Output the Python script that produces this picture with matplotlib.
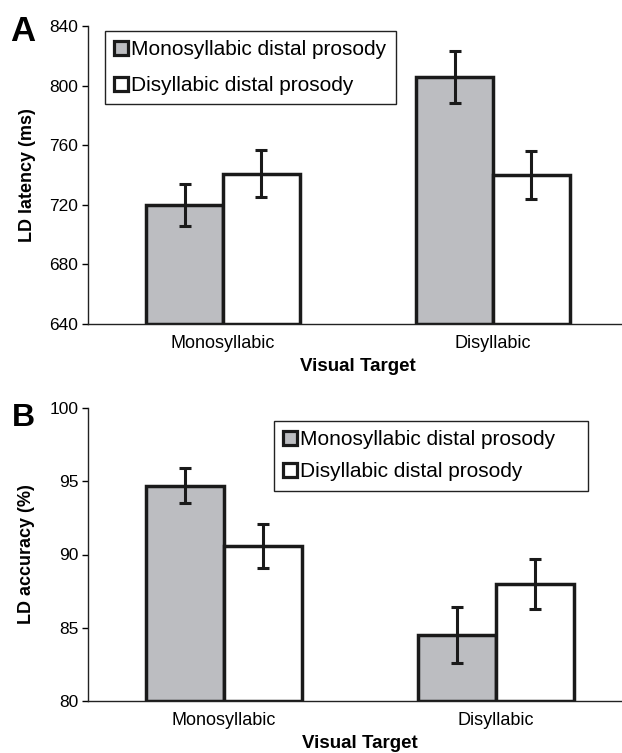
import matplotlib.pyplot as plt
import numpy as np
from matplotlib.patches import Patch

plt.rcParams['font.family'] = ['Liberation Sans', 'DejaVu Sans']

targets = ['Monosyllabic', 'Disyllabic']
series = ['Monosyllabic distal prosody', 'Disyllabic distal prosody']

latency_mono = [720, 806]
latency_mono_err = [14, 17.5]
latency_di = [741, 740]
latency_di_err = [16, 16]

accuracy_mono = [94.7, 84.5]
accuracy_mono_err = [1.2, 1.9]
accuracy_di = [90.6, 88.0]
accuracy_di_err = [1.5, 1.7]

GRAY = '#bcbdc1'
W = 0.285


def panel(ax, mono, mono_err, di, di_err, ylim, yticks, ylabel):
    x = np.arange(len(targets))
    for vals, errs, color, off in [(mono, mono_err, GRAY, -W / 2), (di, di_err, 'white', W / 2)]:
        ax.bar(x + off, np.array(vals) - ylim[0], W, bottom=ylim[0], color=color,
               edgecolor='#1a1a1a', linewidth=2.5, zorder=2)
        ax.errorbar(x + off, vals, yerr=errs, fmt='none', ecolor='#1a1a1a',
                    elinewidth=2.2, capsize=4.5, capthick=2.2, zorder=3)
    ax.set_xlim(-0.5, 1.5)
    ax.set_ylim(*ylim)
    ax.set_yticks(yticks)
    ax.set_xticks(x)
    ax.set_xticklabels(targets, fontsize=13)
    ax.tick_params(axis='x', length=0, pad=8)
    ax.tick_params(axis='y', length=4, width=1, direction='out', labelsize=12.5, pad=3)
    for s in ['top', 'right']:
        ax.spines[s].set_visible(False)
    for s in ['left', 'bottom']:
        ax.spines[s].set_linewidth(1)
        ax.spines[s].set_color('#222222')
    ax.set_xlabel('Visual Target', fontsize=13.5, fontweight='bold', labelpad=4)
    ax.set_ylabel(ylabel, fontsize=13, fontweight='bold', labelpad=10)


def main():
    fig = plt.figure(figsize=(6.22, 7.53), dpi=100)
    ax_a = fig.add_axes([88 / 622, 1 - 324 / 753, 540 / 622, 298 / 753])
    ax_b = fig.add_axes([88 / 622, 1 - 701 / 753, 544 / 622, 293 / 753])

    panel(ax_a, latency_mono, latency_mono_err, latency_di, latency_di_err,
          (640, 840), range(640, 841, 40), 'LD latency (ms)')
    panel(ax_b, accuracy_mono, accuracy_mono_err, accuracy_di, accuracy_di_err,
          (80, 100), range(80, 101, 5), 'LD accuracy (%)')

    handles = [Patch(facecolor=GRAY, edgecolor='#1a1a1a', linewidth=2.3),
               Patch(facecolor='white', edgecolor='#1a1a1a', linewidth=2.3)]
    # panel B's legend box is wider in the original, pad the labels a bit
    for ax, anchor, spacing, labels in [
            (ax_a, (105 / 622, 1 - 31 / 753), 0.8, series),
            (ax_b, (274 / 622, 1 - 421 / 753), 0.62, [s + '    ' for s in series])]:
        leg = ax.legend(handles, labels, loc='upper left', bbox_to_anchor=anchor,
                        bbox_transform=fig.transFigure, fontsize=15, frameon=True,
                        fancybox=False, edgecolor='#222222', framealpha=1,
                        handlelength=0.65, handleheight=0.65, handletextpad=0.15,
                        labelspacing=spacing, borderpad=0.45, borderaxespad=0)
        leg.get_frame().set_linewidth(1)

    fig.text(10 / 622, 1 - 41 / 753, 'A', fontsize=25, fontweight='bold', va='baseline')
    fig.text(12 / 622, 1 - 426 / 753, 'B', fontsize=23, fontweight='bold', va='baseline')

    fig.savefig('out.png', dpi=100)


if __name__ == '__main__':
    main()
